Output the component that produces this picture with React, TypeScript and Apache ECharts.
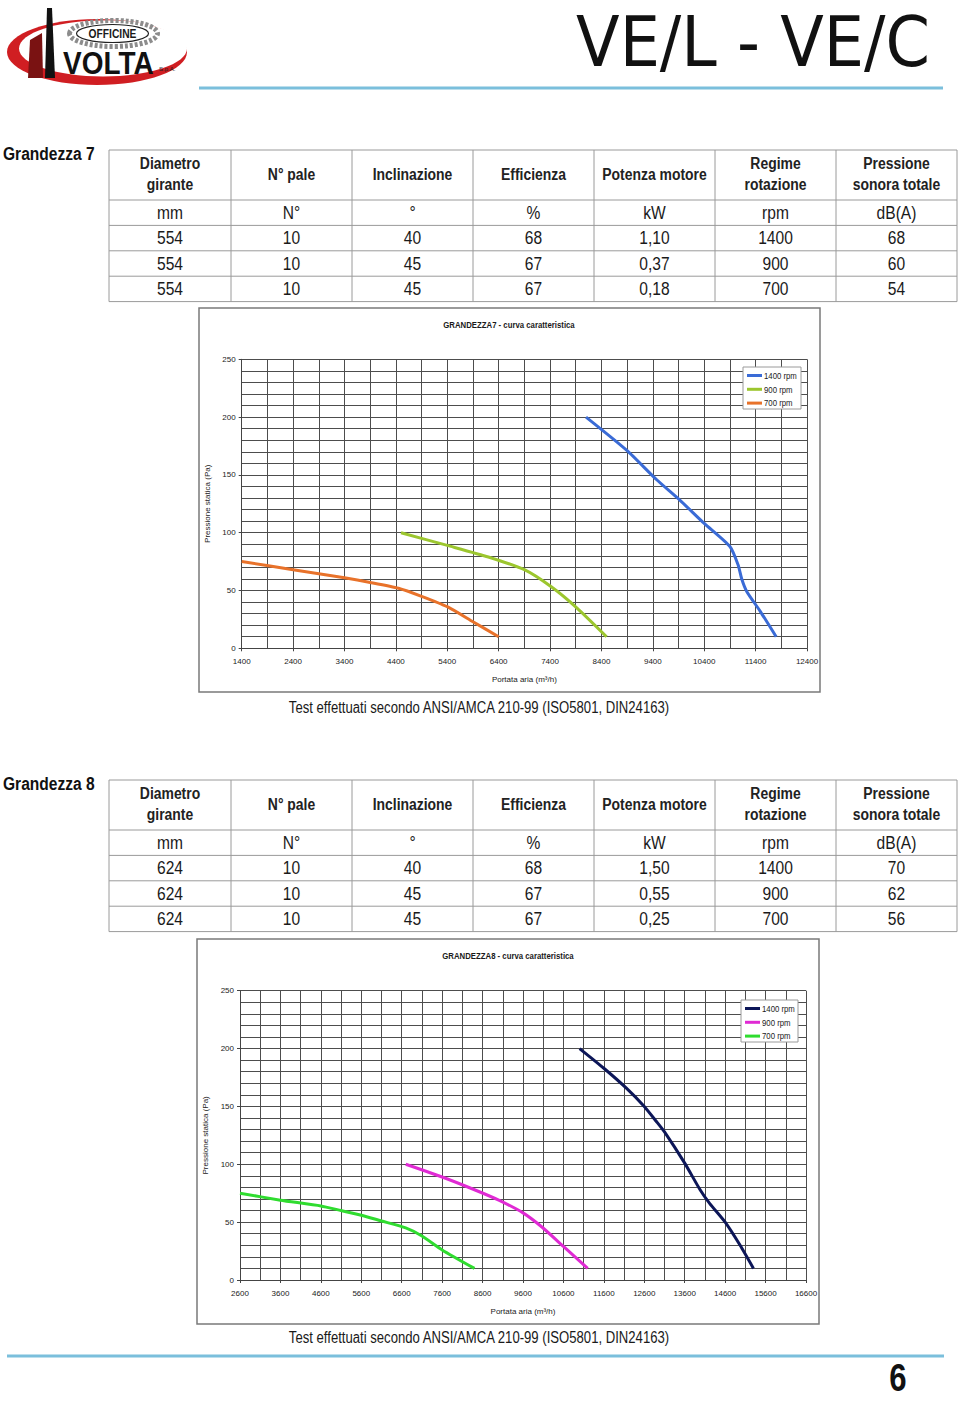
import React, { useEffect, useRef } from "react";
import * as echarts from "echarts";

// ---------- data ----------
const rpmNames = ["1400 rpm", "900 rpm", "700 rpm"];

const g7Title = "GRANDEZZA7 - curva caratteristica";
const g7Colors = ["#3a6bd6", "#9cc62e", "#e8722a"];
const g7Rpm1400 = [[8100, 200], [8900, 171], [9470, 146], [9930, 128], [10400, 108], [10900, 88], [11060, 72], [11130, 60], [11230, 49], [11490, 32], [11800, 10]];
const g7Rpm900 = [[4500, 100], [5400, 89], [6200, 79], [6900, 68], [7430, 53], [7920, 35], [8500, 10]];
const g7Rpm700 = [[1400, 75], [2400, 68], [3400, 61], [3900, 57], [4450, 52], [4900, 45], [5400, 36], [5900, 23], [6400, 10]];
const g7XRange = [1400, 12400];

const g8Title = "GRANDEZZA8 - curva caratteristica";
const g8Colors = ["#0c1658", "#e02ad4", "#2fdc2f"];
const g8Rpm1400 = [[11000, 200], [11600, 183], [12150, 166], [12600, 150], [12900, 137], [13100, 128], [13600, 101], [13980, 78], [14220, 66], [14600, 50], [14970, 30], [15300, 10]];
const g8Rpm900 = [[6700, 100], [7600, 89], [8400, 78], [9000, 69], [9600, 58], [10060, 46], [10600, 29], [11200, 10]];
const g8Rpm700 = [[2600, 75], [3600, 69], [4600, 64], [5100, 60], [5600, 56], [6100, 51], [6700, 45], [7100, 38], [7600, 26], [8400, 10]];
const g8XRange = [2600, 16600];

const yRange = [0, 250];
const xTickStep = 1000;
const yTickStep = 50;
const xAxisName = "Portata aria (m³/h)";
const yAxisName = "Pressione statica (Pa)";

const tableHeader = [["Diametro", "girante"], ["N° pale"], ["Inclinazione"], ["Efficienza"], ["Potenza motore"], ["Regime", "rotazione"], ["Pressione", "sonora totale"]];
const tableUnits = ["mm", "N°", "°", "%", "kW", "rpm", "dB(A)"];
const g7Rows = [
  ["554", "10", "40", "68", "1,10", "1400", "68"],
  ["554", "10", "45", "67", "0,37", "900", "60"],
  ["554", "10", "45", "67", "0,18", "700", "54"],
];
const g8Rows = [
  ["624", "10", "40", "68", "1,50", "1400", "70"],
  ["624", "10", "45", "67", "0,55", "900", "62"],
  ["624", "10", "45", "67", "0,25", "700", "56"],
];
const testNote = "Test effettuati secondo ANSI/AMCA 210-99 (ISO5801, DIN24163)";

// ---------- layout ----------
const colX = [109, 231, 352, 473, 594, 715, 836, 957];
const headH = 50;
const rowH = 25.4;

function hasFont(name: string) {
  try {
    const ctx = document.createElement("canvas").getContext("2d")!;
    const s = "VOLTA Grandezza 12400 abcdefg";
    ctx.font = "32px monospace";
    const a = ctx.measureText(s).width;
    ctx.font = `32px '${name}', monospace`;
    const b = ctx.measureText(s).width;
    return Math.abs(a - b) > 0.5;
  } catch (e) {
    return false;
  }
}

function buildOption() {
  const narrowOk = hasFont("Liberation Sans Narrow");
  const NF = narrowOk ? "'Liberation Sans Narrow', 'Arial Narrow', sans-serif" : "'Liberation Sans', Arial, sans-serif";
  const SX = narrowOk ? 1 : 0.82;

  const g: any[] = [];
  const txt = (x: number, y: number, text: string, o: any = {}) => {
    const style: any = {
      text,
      fill: o.fill ?? "#1a1a1a",
      font: `${o.bold ? "bold " : ""}${o.size ?? 12}px ${o.family ?? NF}`,
      textAlign: o.align ?? "center",
      textVerticalAlign: o.valign ?? "middle",
    };
    if (o.lh) style.lineHeight = o.lh;
    g.push({ type: "text", x, y, scaleX: o.sx ?? SX, z: o.z ?? 10, silent: true, style });
  };
  const ln = (x1: number, y1: number, x2: number, y2: number, stroke: string, w: number, z = 10) => {
    g.push({ type: "line", z, silent: true, shape: { x1, y1, x2, y2 }, style: { stroke, lineWidth: w } });
  };

  // ---- logo ----
  g.push({ type: "ellipse", z: 5, silent: true, shape: { cx: 97, cy: 52, rx: 90, ry: 33 }, style: { fill: "#d01e22" } });
  g.push({ type: "ellipse", z: 6, silent: true, shape: { cx: 103, cy: 48.5, rx: 84, ry: 28 }, style: { fill: "#ffffff" } });
  g.push({ type: "polygon", z: 7, silent: true, shape: { points: [[28, 78], [30, 40], [42, 33], [43, 78]] }, style: { fill: "#7a1212" } });
  g.push({ type: "polygon", z: 7, silent: true, shape: { points: [[47, 8], [52, 8], [55, 78], [45, 78]] }, style: { fill: "#111" } });
  g.push({ type: "ellipse", z: 7, silent: true, shape: { cx: 113.5, cy: 33.5, rx: 44, ry: 13 }, style: { fill: "#fff", stroke: "#8c8c8c", lineWidth: 5, lineDash: [3, 2] } });
  g.push({ type: "ellipse", z: 8, silent: true, shape: { cx: 112.5, cy: 33.5, rx: 36, ry: 9 }, style: { fill: "#fff", stroke: "#222", lineWidth: 1.2 } });
  txt(112.5, 34, "OFFICINE", { bold: true, size: 12.5, z: 9 });
  txt(63, 63, "VOLTA", { bold: true, size: 31, align: "left", z: 9, fill: "#111", sx: SX * 1.1 });
  txt(159, 69, "S.p.A.", { size: 6, align: "left", z: 9, sx: 1 });

  // ---- header ----
  txt(930, 41.5, "VE/L - VE/C", { size: 70, align: "right", family: "'DejaVu Sans', sans-serif", sx: 0.91, fill: "#111" });
  ln(199, 88, 943, 88, "#7bbfdc", 3);

  // ---- tables ----
  const table = (top: number, label: string, rows: string[][]) => {
    txt(3, top + 3.5, label, { bold: true, size: 19, align: "left", fill: "#111" });
    const all = [tableUnits, ...rows];
    const bottom = top + headH + all.length * rowH;
    ln(colX[0], top, colX[7], top, "#9a9a9a", 1);
    for (let i = 0; i <= all.length; i++) {
      const y = top + headH + i * rowH;
      ln(colX[0], y, colX[7], y, "#9a9a9a", 1);
    }
    colX.forEach((x) => ln(x, top, x, bottom, "#9a9a9a", 1));
    tableHeader.forEach((h, i) => {
      const cx = (colX[i] + colX[i + 1]) / 2;
      if (h.length === 2) {
        txt(cx, top + 13, h[0], { bold: true, size: 17, fill: "#222" });
        txt(cx, top + 34, h[1], { bold: true, size: 17, fill: "#222" });
      } else {
        txt(cx, top + 24, h[0], { bold: true, size: 17, fill: "#222" });
      }
    });
    all.forEach((r, ri) =>
      r.forEach((v, ci) => {
        const cx = (colX[ci] + colX[ci + 1]) / 2;
        txt(cx, top + headH + ri * rowH + rowH / 2 - 0.5, v, { size: 19, fill: "#1a1a1a" });
      })
    );
  };
  table(150, "Grandezza 7", g7Rows);
  table(780, "Grandezza 8", g8Rows);

  // ---- chart frames, titles, legends, notes ----
  const decor = (fr: number[], title: string, titleXY: number[], leg: number[], colors: string[], noteY: number) => {
    g.push({ type: "rect", z: 1, silent: true, shape: { x: fr[0], y: fr[1], width: fr[2], height: fr[3] }, style: { fill: "none", stroke: "#7a7a7a", lineWidth: 1.5 } });
    txt(titleXY[0], titleXY[1], title, { bold: true, size: 9.5 });
    const [lx, ly, lw, lh] = leg;
    g.push({ type: "rect", z: 100, silent: true, shape: { x: lx, y: ly, width: lw, height: lh }, style: { fill: "#fff", stroke: "#9a9a9a", lineWidth: 1 } });
    rpmNames.forEach((n, i) => {
      const yy = ly + 8.5 + i * 13.8;
      ln(lx + 4, yy, lx + 19, yy, colors[i], 3, 101);
      txt(lx + 21, yy, n, { size: 9.5, align: "left", z: 101 });
    });
    txt(479, noteY, testNote, { size: 16, fill: "#1a1a1a" });
  };
  decor([199, 308, 621, 384], g7Title, [509, 324.5], [743, 367, 58, 42], g7Colors, 708);
  decor([197, 939, 622, 385], g8Title, [508, 955.5], [741, 1000, 57, 42], g8Colors, 1338);

  // ---- footer ----
  ln(7, 1356, 944, 1356, "#7bbfdc", 3);
  txt(898, 1378, "6", { bold: true, size: 38, fill: "#111" });

  const axisFont = { fontSize: narrowOk ? 9.5 : 8, color: "#222", fontFamily: NF };
  const gridLine = { show: true, lineStyle: { color: "#4d4d4d", width: 1 } };
  const plain = (v: number) => String(v);
  const xAxis = (gridIndex: number, range: number[]) => ({
    type: "value",
    gridIndex,
    min: range[0],
    max: range[1],
    interval: xTickStep,
    name: xAxisName,
    nameLocation: "middle",
    nameGap: 27,
    nameTextStyle: { fontSize: narrowOk ? 9.5 : 8, color: "#222", fontFamily: NF },
    axisLine: { show: true, onZero: false, lineStyle: { color: "#444", width: 1 } },
    axisTick: { show: true, length: 3, lineStyle: { color: "#444" } },
    axisLabel: { ...axisFont, margin: 9, formatter: plain },
    splitLine: gridLine,
    minorTick: { show: false, splitNumber: 2 },
    minorSplitLine: gridLine,
  });
  const yAxis = (gridIndex: number) => ({
    type: "value",
    gridIndex,
    min: yRange[0],
    max: yRange[1],
    interval: yTickStep,
    name: yAxisName,
    nameLocation: "middle",
    nameGap: 24,
    nameTextStyle: { fontSize: narrowOk ? 9.5 : 8, color: "#222", fontFamily: NF },
    axisLine: { show: true, lineStyle: { color: "#444", width: 1 } },
    axisTick: { show: true, length: 3, lineStyle: { color: "#444" } },
    axisLabel: { ...axisFont, margin: 6, formatter: plain },
    splitLine: gridLine,
    minorTick: { show: false, splitNumber: 5 },
    minorSplitLine: gridLine,
  });

  const lineSeries = (name: string, idx: number, data: number[][], color: string) => ({
    type: "line",
    name,
    xAxisIndex: idx,
    yAxisIndex: idx,
    data,
    symbol: "none",
    showSymbol: false,
    smooth: 0.2,
    silent: true,
    z: 5,
    lineStyle: { width: 3, color, cap: "butt", join: "round" },
    itemStyle: { color },
  });

  return {
    animation: false,
    backgroundColor: "#ffffff",
    grid: [
      { left: 241.7, top: 359.3, width: 565.3, height: 289, containLabel: false },
      { left: 240, top: 990.7, width: 566, height: 289.3, containLabel: false },
    ],
    xAxis: [xAxis(0, g7XRange), xAxis(1, g8XRange)],
    yAxis: [yAxis(0), yAxis(1)],
    series: [
      lineSeries(rpmNames[0], 0, g7Rpm1400, g7Colors[0]),
      lineSeries(rpmNames[1], 0, g7Rpm900, g7Colors[1]),
      lineSeries(rpmNames[2], 0, g7Rpm700, g7Colors[2]),
      lineSeries(rpmNames[0], 1, g8Rpm1400, g8Colors[0]),
      lineSeries(rpmNames[1], 1, g8Rpm900, g8Colors[1]),
      lineSeries(rpmNames[2], 1, g8Rpm700, g8Colors[2]),
    ],
    graphic: g,
  };
}

export default function App() {
  const ref = useRef<HTMLDivElement>(null);
  useEffect(() => {
    document.body.style.margin = "0";
    const chart = echarts.init(ref.current!, null, { renderer: "svg", width: 960, height: 1401 });
    chart.setOption(buildOption() as any);
    return () => chart.dispose();
  }, []);
  return <div ref={ref} style={{ position: "absolute", left: 0, top: 0, width: 960, height: 1401, background: "#fff" }} />;
}
